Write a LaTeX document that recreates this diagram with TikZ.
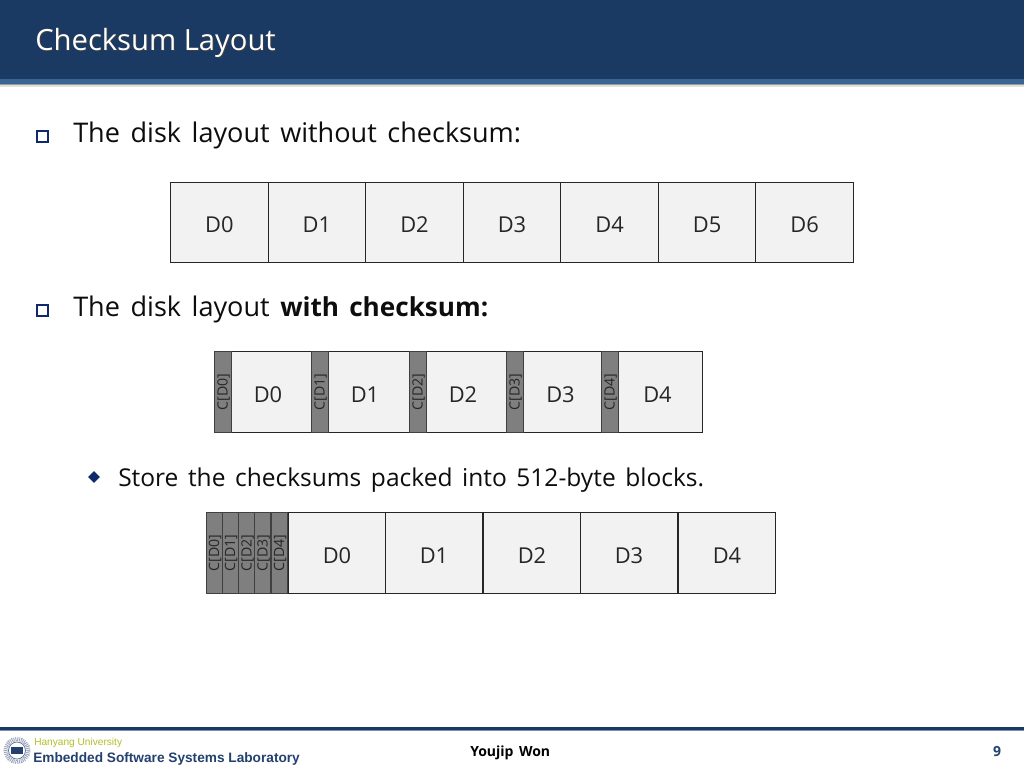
\documentclass[tikz,border=0pt]{standalone}
\usepackage{fontspec}
\setmainfont[WordSpace=1.5]{Open Sans}
\newfontfamily\titlefont{Open Sans}
\newfontfamily\labfont{Liberation Sans}
\usetikzlibrary{shapes.geometric}
\definecolor{hdr}{HTML}{1A3A63}
\definecolor{hdrb}{HTML}{3A6493}
\definecolor{cell}{HTML}{F2F2F2}
\definecolor{chk}{HTML}{7F7F7F}
\definecolor{blt}{HTML}{0E2A6B}
\definecolor{lab}{HTML}{24406E}
\definecolor{uni}{HTML}{B4BE28}
\tikzset{
 x=0.75pt,y=-0.75pt,
 dcell/.style={draw=black!85,line width=0.75pt,fill=cell,minimum width=73.2pt,minimum height=60.6pt,inner sep=0pt,outer sep=0pt,font=\fontsize{16.4pt}{18pt}\selectfont,text=black!85,text height=15pt,text depth=0pt},
 ccell/.style={draw=black!75,line width=0.75pt,fill=chk,minimum height=60.6pt,inner sep=0pt,outer sep=0pt},
 clabel/.style={rotate=90,inner sep=0pt,yshift=-0.75pt,font=\fontsize{10.6pt}{12pt}\selectfont,text=black!85},
 dlabel/.style={inner sep=0pt,font=\fontsize{16.4pt}{18pt}\selectfont,text=black!85,text height=15pt,text depth=0pt},
 bodytext/.style={anchor=base west,inner sep=0pt,font=\fontsize{20.3pt}{24pt}\selectfont,text=black!95},
 subtext/.style={anchor=base west,inner sep=0pt,font=\fontsize{18.4pt}{21pt}\selectfont,text=black!95},
 titletext/.style={anchor=base west,inner sep=0pt,font=\titlefont\fontsize{21.9pt}{26pt}\selectfont},
 squarebullet/.style={draw=blt,line width=2pt,fill=white,minimum size=8.4pt,inner sep=0pt,outer sep=0pt},
 diamondbullet/.style={diamond,fill=blt,aspect=1,minimum size=9pt,inner sep=0pt},
}
\begin{document}
\begin{tikzpicture}
\useasboundingbox (0,0) rectangle (1024,768);
\fill[white] (0,0) rectangle (1024,768);
% header
\fill[black!12] (0,85) rectangle (1024,87);
\fill[black!40] (0,84) rectangle (1024,85);
\fill[hdr] (0,0) rectangle (1024,79);
\fill[hdrb] (0,79) rectangle (1024,84);
\node[titletext,text=black!75] (titleshadow) at (36,51) {Checksum Layout};
\node[titletext,text=white] (title) at (35,50) {Checksum Layout};
% body
\node[squarebullet] (b1) at (42.5,136.5) {};
\node[bodytext] (t1) at (73,142) {The disk layout without checksum:};
\node[squarebullet] (b2) at (42.5,310.5) {};
\node[bodytext] (t2) at (73,316) {The disk layout \textbf{\fontsize{19.6pt}{24pt}\selectfont with checksum:}};
\node[diamondbullet] (b3) at (94,477) {};
\node[subtext] (t3) at (118,486) {Store the checksums packed into 512-byte blocks.};
% row 1
\foreach \n/\x in {0/219.4,1/316.9,2/414.5,3/512,4/609.6,5/707.1,6/804.7}
  \node[dcell] (a\n) at (\x,222.5) {D\n};
% row 2
\foreach \n/\l/\r in {0/231/311,1/328/409,2/426/506,3/523/601,4/618/702}
  \path[draw=black!85,line width=0.75pt,fill=cell] (\l,351.5) rectangle (\r,432.5);
\foreach \n/\x in {0/222.5,1/319.5,2/417.5,3/514.5,4/609.5}
  {\node[ccell,minimum width=12.75pt] (cb\n) at (\x,392) {};
   \node[clabel] at (cb\n) {C[D\n]};}
\foreach \n/\x in {0/268,1/365,2/463,3/560.5,4/657.5}
  \node[dlabel] (d\n) at (\x,392) {D\n};
% row 3
\foreach \n/\x in {0/214,1/230,2/246.5,3/262.5,4/279}
  {\node[ccell,minimum width=12pt] (e\n) at (\x,553) {};
   \node[clabel] at (e\n) {C[D\n]};}
\foreach \n/\x in {0/337,1/434,2/532,3/629,4/727}
  \node[dcell] (f\n) at (\x,553) {D\n};
% footer
\fill[hdr] (0,727) rectangle (1024,729.5);
\fill[hdrb!70] (0,729.5) rectangle (1024,730.5);
\begin{scope}
 \draw[lab!45,line width=3pt,dash pattern=on 0.7pt off 0.7pt] (17,750.5) circle (11.5);
 \draw[lab!70,line width=0.6pt] (17,750.5) circle (8.5);
 \fill[lab] (11,747) rectangle (23,754);
\end{scope}
\node[anchor=base west,inner sep=0pt,text=uni,font=\labfont\fontsize{7.6pt}{10pt}\selectfont] (uni) at (34,745) {Hanyang University};
\node[anchor=base west,inner sep=0pt,text=lab,font=\labfont\bfseries\fontsize{10.25pt}{12pt}\selectfont] (lab) at (33,762) {Embedded Software Systems Laboratory};
\node[anchor=base west,inner sep=0pt,text=black,font=\fontsize{10.5pt}{12pt}\selectfont\bfseries] (author) at (470,756) {Youjip Won};
\node[anchor=base,inner sep=0pt,text=lab,font=\fontsize{10.5pt}{12pt}\selectfont\bfseries] (page) at (997,756) {9};
\end{tikzpicture}
\end{document}
